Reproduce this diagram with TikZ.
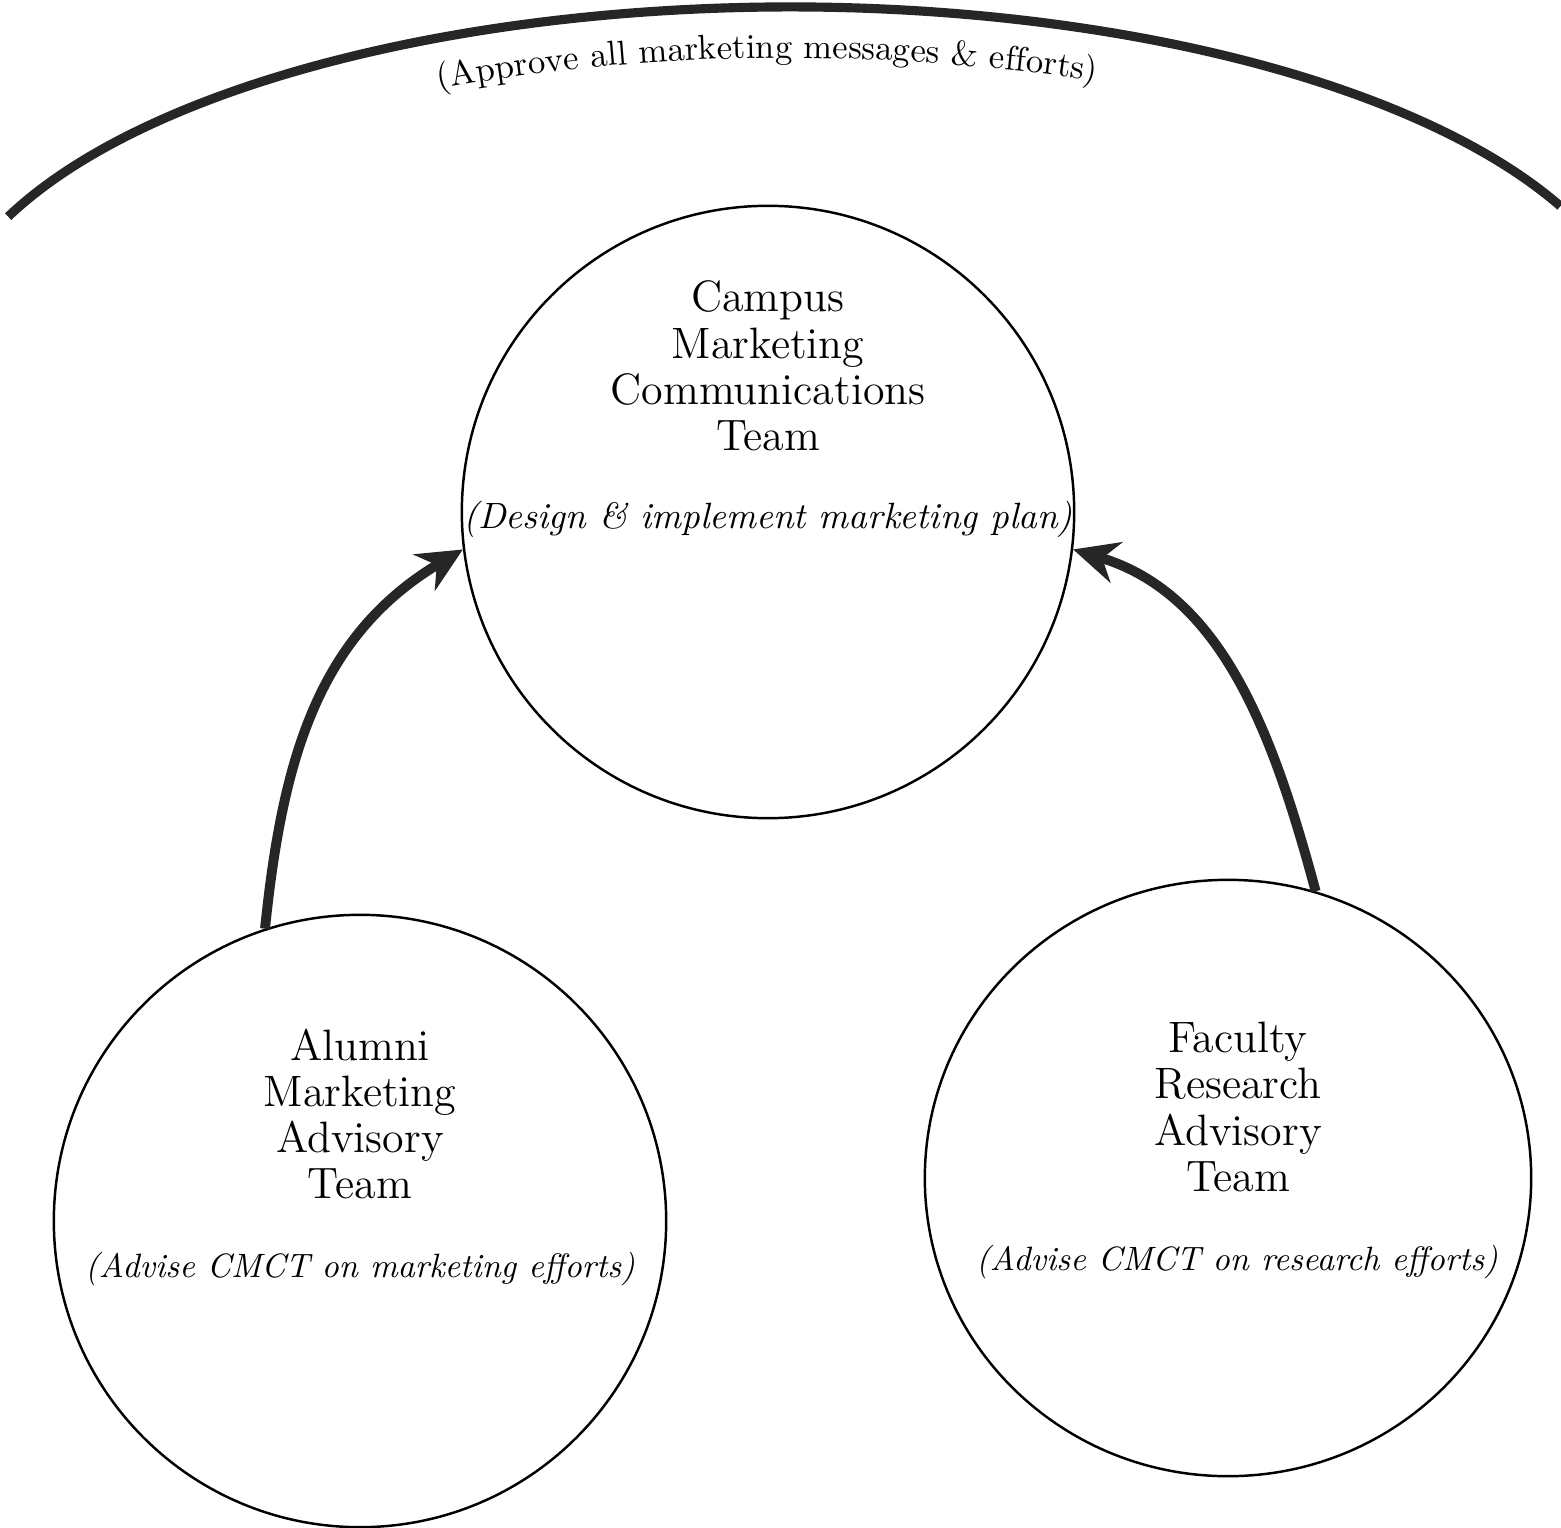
\documentclass[tikz,border=0pt]{standalone}
\usepackage{fontspec}
\usetikzlibrary{arrows.meta,shapes.geometric,decorations.text}
\begin{document}
\begin{tikzpicture}[x=0.01cm,y=-0.01cm,
  team/.style={circle, draw, line width=0.7pt, minimum size=6.12cm, inner sep=0pt},
  teamname/.style={align=center, font=\fontsize{12.5}{13.17}\selectfont, inner sep=0pt},
  role/.style={font=\fontsize{9.6}{11}\selectfont\itshape, inner sep=0pt, anchor=base},
  flow/.style={line width=2.8pt, draw=black!85, -{Stealth[length=0.45cm,width=0.42cm]}},
  approve/.style={line width=2.6pt, draw=black!85}
]
\useasboundingbox (0,0) rectangle (1561,1528);
\fill[white] (0,0) rectangle (1561,1528);

% outer approval arc
\draw[approve] (790,352) ++(203.1:850 and 345)
  arc[start angle=203.1, end angle=335, x radius=850, y radius=345];
\path[decorate, decoration={text along path, text align=center,
  text={|\fontsize{9.85}{12}\selectfont|(Approve all marketing messages {\&} efforts)}}]
  (790,403) ++(242.7:850 and 345)
  arc[start angle=242.7, end angle=293.9, x radius=850, y radius=345];

% teams
\node[team] (cmct) at (768,512) {};
\node[team] (amat) at (360,1221) {};
\node[ellipse, draw, line width=0.7pt, minimum width=6.06cm, minimum height=5.96cm, inner sep=0pt] (frat) at (1228,1178) {};

\node[teamname] (cmctname) at (768,366) {Campus\\Marketing\\Communications\\Team};
\node[role, font=\fontsize{10.4}{12}\selectfont\itshape] (cmctrole) at (768,528) {(Design \& implement marketing plan)};

\node[teamname] (amatname) at (360,1114) {Alumni\\Marketing\\Advisory\\Team};
\node[role] (amatrole) at (360,1277) {(Advise CMCT on marketing efforts)};

\node[teamname] (fratname) at (1238,1107) {Faculty\\Research\\Advisory\\Team};
\node[role] (fratrole) at (1237,1270) {(Advise CMCT on research efforts)};

% arrows
\draw[flow] (amat.108) .. controls (282,764) and (316,637) .. (cmct.187);
\draw[flow] (frat.73) .. controls (1273,733) and (1222,594) .. (cmct.-7);
\end{tikzpicture}
\end{document}
